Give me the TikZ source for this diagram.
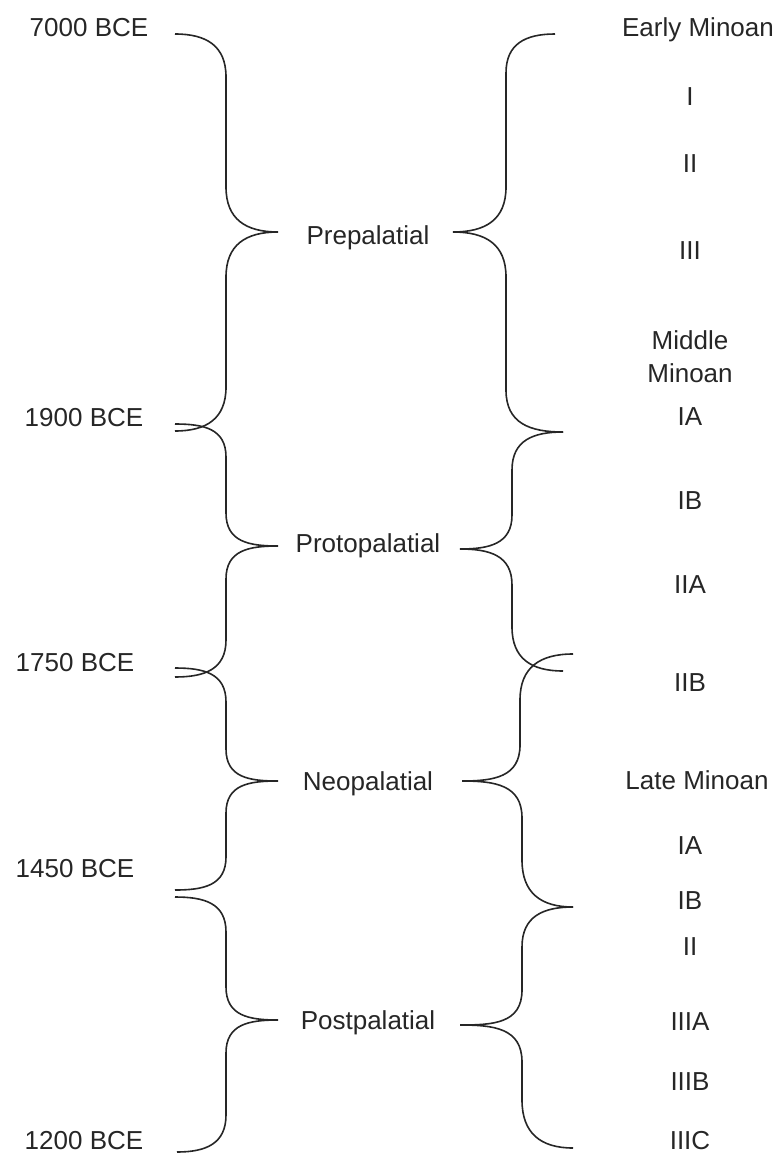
\documentclass[tikz,border=0pt]{standalone}
\usepackage{fontspec}
\setmainfont{Liberation Sans}
\begin{document}
\begin{tikzpicture}[x=1pt,y=1pt,
  lbl/.style={anchor=base,inner sep=0pt,font=\fontsize{26}{30}\selectfont,text=black!85},
  br/.style={line width=1.6pt,draw=black!85,looseness=1.2}]
\useasboundingbox (0,0) rectangle (781,-1153);
% left braces
\draw[br] (175,-34) to[out=0,in=90] (226,-77) -- (226,-187) to[out=-90,in=180] (278,-232)
  to[out=180,in=90] (226,-277) -- (226,-387) to[out=-90,in=0] (175,-431);
\draw[br] (175,-424) to[out=0,in=90] (226,-457) -- (226,-513) to[out=-90,in=180] (278,-546)
  to[out=180,in=90] (226,-579) -- (226,-640) to[out=-90,in=0] (175,-677);
\draw[br] (175,-668) to[out=0,in=90] (226,-702) -- (226,-749) to[out=-90,in=180] (278,-781)
  to[out=180,in=90] (226,-813) -- (226,-857) to[out=-90,in=0] (175,-890);
\draw[br] (175,-897) to[out=0,in=90] (226,-932) -- (226,-987) to[out=-90,in=180] (278,-1020)
  to[out=180,in=90] (226,-1053) -- (226,-1115) to[out=-90,in=0] (177,-1152);
% right braces
\draw[br] (555,-34) to[out=180,in=90] (506,-73) -- (506,-187) to[out=-90,in=0] (453,-232)
  to[out=0,in=90] (506,-277) -- (506,-390) to[out=-90,in=180] (563,-432);
\draw[br] (563,-432) to[out=180,in=90] (512,-470) -- (512,-515) to[out=-90,in=0] (460,-549)
  to[out=0,in=90] (512,-585) -- (512,-627) to[out=-90,in=180] (563,-671);
\draw[br] (573,-654) to[out=180,in=90] (520,-700) -- (520,-745) to[out=-90,in=0] (462,-781)
  to[out=0,in=90] (522,-818) -- (522,-860) to[out=-90,in=180] (573,-907);
\draw[br] (573,-907) to[out=180,in=90] (522,-947) -- (522,-990) to[out=-90,in=0] (460,-1025)
  to[out=0,in=90] (522,-1062) -- (522,-1100) to[out=-90,in=180] (573,-1148);
% left labels
\node[lbl] (d7000) at (89,-37) {7000 BCE};
\node[lbl] (d1900) at (84,-426) {1900 BCE};
\node[lbl] (d1750) at (75,-671) {1750 BCE};
\node[lbl] (d1450) at (75,-877) {1450 BCE};
\node[lbl] (d1200) at (84,-1149) {1200 BCE};
% middle labels
\node[lbl] (pre) at (368,-244) {Prepalatial};
\node[lbl] (proto) at (368,-552) {Protopalatial};
\node[lbl] (neo) at (368,-790) {Neopalatial};
\node[lbl] (post) at (368,-1029) {Postpalatial};
% right labels
\node[lbl] (em) at (698,-37) {Early Minoan};
\node[lbl] (emI) at (690,-106) {I};
\node[lbl] (emII) at (690,-172) {II};
\node[lbl] (emIII) at (690,-259) {III};
\node[lbl] (mm1) at (690,-349) {Middle};
\node[lbl] (mm2) at (690,-382) {Minoan};
\node[lbl] (mmIA) at (690,-425) {IA};
\node[lbl] (mmIB) at (690,-509) {IB};
\node[lbl] (mmIIA) at (690,-593) {IIA};
\node[lbl] (mmIIB) at (690,-691) {IIB};
\node[lbl] (lm) at (697,-789) {Late Minoan};
\node[lbl] (lmIA) at (690,-854) {IA};
\node[lbl] (lmIB) at (690,-909) {IB};
\node[lbl] (lmII) at (690,-955) {II};
\node[lbl] (lmIIIA) at (690,-1030) {IIIA};
\node[lbl] (lmIIIB) at (690,-1090) {IIIB};
\node[lbl] (lmIIIC) at (690,-1149) {IIIC};
\end{tikzpicture}
\end{document}
